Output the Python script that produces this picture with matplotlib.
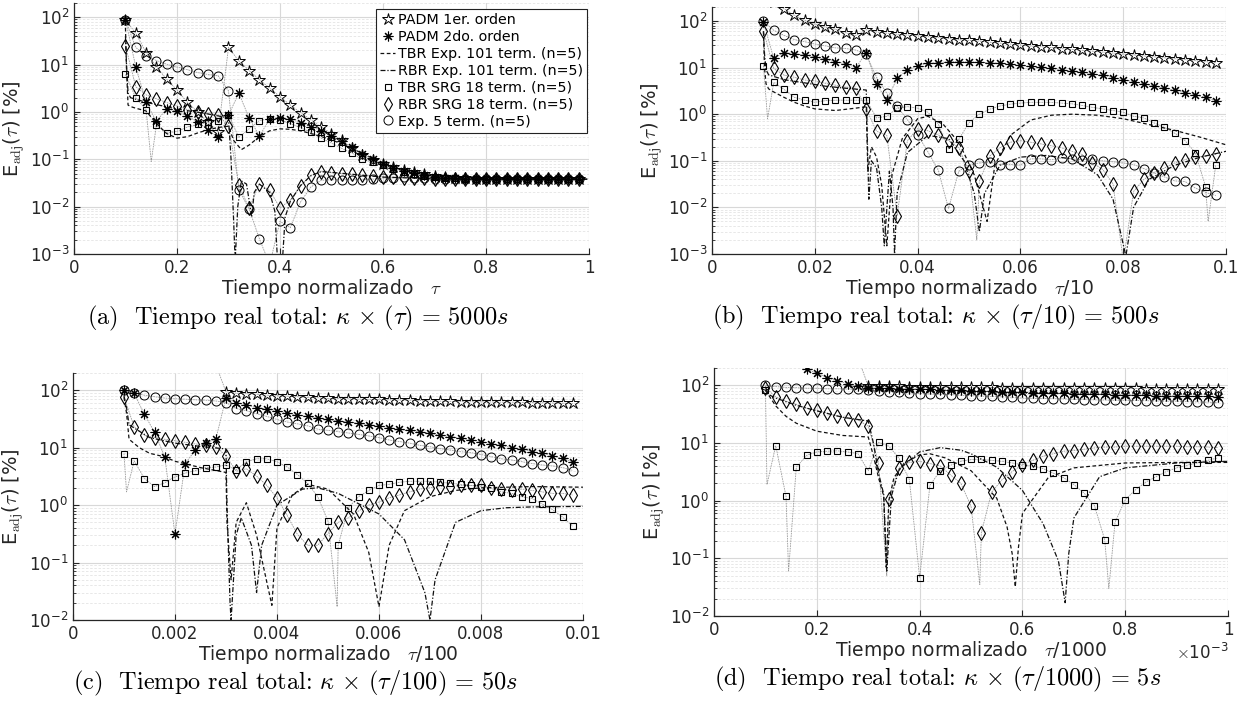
import numpy as np
import matplotlib.pyplot as plt
from matplotlib.lines import Line2D
from matplotlib.ticker import LogLocator, NullFormatter, FuncFormatter

plt.rcParams['mathtext.fontset'] = 'cm'
plt.rcParams['font.family'] = 'DejaVu Sans'

# sample grid in normalized units; each panel rescales it
t = np.round(np.arange(0.10, 0.99, 0.02), 2)

# ---------------- (a) tau ----------------
star_a = [88, 46, 18, 9.0, 4.9, 2.9, 1.6, 1.0, 0.6, 0.38, 23, 12, 7.5, 4.8, 3.2, 2.1, 1.4, 0.97, 0.68, 0.48,
          0.35, 0.25, 0.17, 0.125, 0.097, 0.08, 0.068, 0.059, 0.053, 0.048, 0.045, 0.042, 0.041, 0.040, 0.039,
          0.039, 0.038, 0.038, 0.038, 0.038, 0.038, 0.038, 0.038, 0.038, 0.038]
ast_a = [88, 9.0, 1.6, 0.63, 1.18, 1.04, 0.82, 0.62, 0.42, 0.29, 0.85, 2.5, 0.75, 0.31, 0.71, 0.76, 0.71, 0.59, 0.49, 0.4,
         0.31, 0.24, 0.18, 0.13, 0.1, 0.08, 0.066, 0.057, 0.051, 0.046, 0.043, 0.041, 0.04, 0.039, 0.039,
         0.038, 0.038, 0.038, 0.038, 0.038, 0.038, 0.038, 0.038, 0.038, 0.038]
sq_a = [6.2, 2.0, 1.12, 0.52, 0.36, 0.39, 0.48, 0.55, 0.6, 0.66, 0.88, 0.29, 0.44, 0.66, 0.72, 0.68, 0.57, 0.47, 0.37, 0.28,
        0.22, 0.17, 0.135, 0.1, 0.087, 0.075, 0.063, 0.055, 0.05, 0.045, 0.042, 0.041, 0.04, 0.039, 0.039,
        0.038, 0.038, 0.038, 0.038, 0.038, 0.038, 0.038, 0.038, 0.038, 0.038]
dia_a = [25, 3.4, 2.3, 1.9, 1.58, 1.34, 1.12, 1.0, 0.92, 0.87, 0.5, 0.029, 0.0092, 0.03, 0.022, 0.0094, 0.0138, 0.0275,
         0.046, 0.055, 0.052, 0.05, 0.048, 0.046, 0.044, 0.043, 0.042, 0.041, 0.04, 0.04, 0.039, 0.039,
         0.038, 0.038, 0.038, 0.038, 0.038, 0.038, 0.038, 0.038, 0.038, 0.038, 0.038, 0.038, 0.038]
circ_a = [88, 23, 15.4, 12.2, 10.2, 8.9, 7.8, 6.8, 6.2, 5.8, 2.8, 0.023, 0.0089, 0.0021, 0.0006, 0.0049, 0.0036, 0.0126,
          0.026, 0.036, 0.037, 0.037, 0.037, 0.037, 0.038, 0.04, 0.041, 0.042, 0.041, 0.04, 0.039, 0.039,
          0.038, 0.038, 0.038, 0.038, 0.038, 0.038, 0.038, 0.038, 0.038, 0.038, 0.038, 0.038, 0.038]
tbr_xa = [0.1, 0.102, 0.105, 0.11, 0.12, 0.14, 0.16, 0.18, 0.2, 0.22, 0.24, 0.26, 0.28, 0.3, 0.31, 0.325, 0.34, 0.36,
          0.38, 0.4, 0.42, 0.44, 0.46, 0.5, 0.55, 0.6, 0.65, 0.7, 0.8, 1.0]
tbr_ya = [60, 8, 1.4, 1.3, 1.2, 1.05, 0.57, 0.35, 0.28, 0.3, 0.36, 0.42, 0.47, 0.5, 0.25, 0.16, 0.2, 0.3,
          0.4, 0.44, 0.43, 0.4, 0.35, 0.26, 0.15, 0.083, 0.053, 0.044, 0.039, 0.038]
rbr_xa = [0.1, 0.102, 0.105, 0.11, 0.14, 0.2, 0.25, 0.3, 0.305, 0.31, 0.313, 0.318, 0.325, 0.335, 0.342, 0.345, 0.35,
          0.36, 0.38, 0.39, 0.395, 0.405, 0.41, 0.42, 0.44, 0.46, 0.48, 0.5, 0.6, 0.7, 1.0]
rbr_ya = [40, 10, 2.5, 2.0, 1.6, 1.15, 0.95, 0.75, 0.1, 0.005, 0.0007, 0.01, 0.035, 0.03, 0.01, 0.006, 0.02,
          0.03, 0.02, 0.008, 0.0008, 0.0008, 0.006, 0.013, 0.028, 0.045, 0.055, 0.053, 0.042, 0.039, 0.038]
sq_dip_a = ([0.15], [0.09])
dia_dip_a = ([], [])

# ---------------- (b) tau/10 ----------------
star_b = [400, 260, 184, 132, 105, 85, 74, 66, 56, 49, 65, 58, 55, 52, 50, 48, 46, 44, 42, 40,
          38.5, 37, 35, 33.5, 32, 30.5, 29, 28, 27, 25.5, 24.5, 23.5, 22.5, 21.5, 20.5, 19.5, 18.7, 17.8, 17,
          16.2, 15.5, 14.8, 14.1, 13.4, 12.8]
ast_b = [95, 15.7, 21, 20, 18.5, 17, 15, 13.3, 12, 10, 21, 4.4, 2.0, 5.9, 8.9, 11, 12.3, 12.8, 13.3, 13.3,
         13.1, 13, 12.8, 12.3, 11.7, 11.1, 10.6, 10.1, 9.6, 8.9, 8.4, 8.0, 7.3, 6.9, 6.1, 5.4, 5.0, 4.5, 4.0,
         3.6, 3.3, 2.9, 2.6, 2.3, 1.96]
sq_b = [11, 4.8, 3.4, 2.3, 2.0, 1.8, 1.95, 2.0, 2.0, 2.0, 2.0, 0.83, 0.9, 1.35, 1.45, 1.35, 1.1, 0.62, 0.18, 0.29,
        0.66, 1.0, 1.28, 1.5, 1.64, 1.73, 1.8, 1.8, 1.8, 1.73, 1.67, 1.54, 1.4, 1.3, 1.2, 1.1, 0.9, 0.83, 0.65,
        0.52, 0.39, 0.27, 0.15, 0.028, 0.083]
dia_b = [61, 9.6, 6.9, 6.2, 5.4, 5.2, 4.6, 4.2, 3.8, 3.6, 1.3, 0.43, 0.35, 0.0066, 0.27, 0.49, 0.44, 0.36, 0.27, 0.19,
         0.06, 0.037, 0.126, 0.19, 0.25, 0.27, 0.25, 0.23, 0.21, 0.19, 0.16, 0.137, 0.09, 0.065, 0.032, 0.0007,
         0.022, 0.04, 0.055, 0.07, 0.09, 0.106, 0.12, 0.125, 0.137]
circ_b = [100, 63, 49, 40, 36, 32, 29.3, 26.5, 25.7, 23.7, 19.2, 6.2, 2.8, 1.47, 0.76, 0.36, 0.155, 0.063, 0.0095, 0.06,
          0.081, 0.09, 0.095, 0.083, 0.083, 0.081, 0.11, 0.11, 0.105, 0.115, 0.11, 0.105, 0.11, 0.1, 0.095, 0.09,
          0.083, 0.068, 0.055, 0.045, 0.037, 0.036, 0.026, 0.021, 0.018]
tbr_xb = [0.01, 0.0102, 0.0105, 0.011, 0.012, 0.014, 0.016, 0.018, 0.02, 0.024, 0.028, 0.03, 0.0303, 0.031, 0.032,
          0.033, 0.034, 0.035, 0.037, 0.04, 0.042, 0.045, 0.048, 0.051, 0.0535, 0.055, 0.058, 0.062, 0.066, 0.07,
          0.075, 0.08, 0.085, 0.09, 0.095, 0.1]
tbr_yb = [60, 10, 4.5, 3.5, 3.0, 2.3, 1.8, 1.5, 1.3, 1.2, 1.35, 1.45, 0.06, 0.2, 0.12,
          0.03, 0.0015, 0.05, 0.3, 0.8, 0.9, 0.6, 0.25, 0.05, 0.005, 0.08, 0.35, 0.75, 0.95, 1.0,
          0.95, 0.8, 0.6, 0.45, 0.32, 0.22]
rbr_xb = [0.01, 0.0102, 0.0105, 0.011, 0.014, 0.018, 0.022, 0.026, 0.03, 0.0302, 0.0305, 0.031, 0.032, 0.033, 0.0335,
          0.0345, 0.0352, 0.0355, 0.036, 0.038, 0.042, 0.046, 0.049, 0.051, 0.052, 0.053, 0.056, 0.06, 0.065, 0.07,
          0.075, 0.078, 0.0805, 0.082, 0.085, 0.09, 0.095, 0.1]
rbr_yb = [60, 20, 9, 7, 5.5, 4.7, 4.0, 3.6, 3.3, 0.3, 0.015, 0.1, 0.07, 0.01, 0.0015,
          0.06, 0.01, 0.001, 0.02, 0.15, 0.35, 0.3, 0.1, 0.02, 0.003, 0.02, 0.08, 0.12, 0.13, 0.11,
          0.05, 0.015, 0.0009, 0.01, 0.04, 0.08, 0.12, 0.16]
sq_dip_b = ([0.0108, 0.0965], [0.8, 0.005])
dia_dip_b = ([0.0515], [0.002])

# ---------------- (c) tau/100 ----------------
star_c = [900, 700, 600, 500, 450, 400, 350, 320, 300, 280, 94, 89, 87, 85, 82, 80, 79, 77, 75, 74,
          72, 71.5, 71, 70, 69.5, 69, 68, 67.5, 67, 66, 65, 64.5, 64, 63.5, 63, 63, 62.5, 62, 62,
          61.5, 61, 60.5, 60, 59.5, 59]
ast_c = [100, 88, 38, 18.6, 6.9, 0.31, 5.3, 9.1, 12.2, 13.9, 74, 61, 55, 50, 47, 44, 40, 37, 35, 32.5,
         31, 29, 28, 26.5, 25, 24, 22.3, 21, 20, 19, 17.8, 16.4, 15.6, 14.6, 13.6, 12.8, 11.8, 11, 10,
         9.6, 8.5, 8, 7.2, 6.5, 5.6]
sq_c = [7.9, 5.9, 2.9, 2.1, 2.45, 3.1, 3.6, 4.0, 4.5, 4.6, 5.0, 4.1, 5.7, 6.4, 6.4, 5.7, 4.6, 3.4, 2.4, 1.4,
        0.53, 0.2, 0.9, 1.4, 1.8, 2.2, 2.3, 2.5, 2.6, 2.6, 2.6, 2.5, 2.4, 2.3, 2.2, 2.1, 1.95, 1.7, 1.6,
        1.4, 1.3, 1.05, 0.84, 0.62, 0.43]
dia_c = [77, 23, 16.4, 15, 14, 13.2, 12.4, 11.6, 11.2, 10.4, 7.2, 3.9, 4.3, 3.2, 2.2, 1.34, 0.66, 0.31, 0.2, 0.2,
         0.32, 0.5, 0.6, 0.79, 1.0, 1.13, 1.34, 1.5, 1.7, 1.9, 2.0, 2.1, 2.1, 2.2, 2.2, 2.2, 2.0, 1.9, 1.8,
         1.9, 1.8, 1.7, 1.6, 1.6, 1.5]
circ_c = [100, 89, 82, 77, 73, 71, 70, 68, 67, 65, 61, 48, 44, 39, 35, 31, 28, 26, 24, 21,
          20, 19, 18, 17, 16, 15, 13.6, 12.8, 12, 11, 10.4, 9.6, 9.1, 8.5, 8.2, 7.6, 7, 6.4, 6.1,
          5.7, 5.3, 5, 4.8, 4.5, 4.0]
tbr_xc = [0.001, 0.00105, 0.0011, 0.0013, 0.0015, 0.0018, 0.002, 0.0025, 0.003, 0.00302, 0.0031, 0.0032, 0.0034,
          0.0036, 0.0039, 0.004, 0.0043, 0.0046, 0.005, 0.0055, 0.0058, 0.006, 0.0062, 0.0065, 0.007, 0.0075,
          0.008, 0.009, 0.01]
tbr_yc = [75, 40, 14, 10, 8, 6.9, 5.8, 4.5, 3.7, 0.5, 0.05, 0.5, 1.1,
          0.3, 0.018, 0.4, 1.5, 2.3, 1.9, 0.7, 0.15, 0.017, 0.2, 0.8, 1.4, 1.8,
          2.0, 2.1, 2.05]
rbr_xc = [0.001, 0.00105, 0.0011, 0.0015, 0.002, 0.0025, 0.003, 0.00302, 0.00308, 0.0031, 0.0032, 0.0033, 0.0035,
          0.0036, 0.0037, 0.004, 0.0045, 0.0048, 0.0052, 0.006, 0.0065, 0.0069, 0.007, 0.0071, 0.0075, 0.008,
          0.0085, 0.009, 0.01]
rbr_yc = [80, 50, 25, 15, 12, 10.5, 9.5, 1, 0.02, 0.01, 0.3, 0.6, 0.2,
          0.03, 0.2, 1.0, 1.9, 2.0, 1.6, 0.7, 0.25, 0.03, 0.01, 0.05, 0.5, 0.8,
          0.9, 0.93, 0.95]
sq_dip_c = ([0.00105, 0.00518], [1.7, 0.017])
dia_dip_c = ([], [])

# ---------------- (d) tau/1000, line x in units of 1e-3 ----------------
star_d = [3000, 2000, 1500, 1000, 800, 600, 500, 400, 350, 300, 97, 96.5, 96, 95.5, 95, 94.5, 94, 93.5, 93, 92.7,
          92.4, 92, 91.7, 91.4, 91, 90.7, 90.4, 90.1, 89.8, 89.5, 89.3, 89.1, 88.9, 88.7, 88.5, 88.3, 88.1, 88,
          87.9, 87.8, 87.7, 87.6, 87.5, 87.4, 87.3]
ast_d = [900, 600, 400, 260, 190, 162, 136, 119, 107, 97, 91, 90, 89, 88, 87, 86, 85, 84, 83, 82,
         81, 80, 79, 78, 77, 76, 75, 74.5, 74, 73, 72, 71.5, 71, 70, 69, 68.5, 68, 67, 66.5,
         66, 65.5, 65, 64.5, 64, 63]
sq_d = [82, 9.0, 1.19, 3.8, 6.1, 7.0, 7.2, 7.3, 7.0, 6.5, 3.3, 10.3, 8.8, 5.4, 2.3, 0.046, 1.85, 3.3, 4.1, 4.8,
        5.2, 5.2, 5.0, 4.8, 4.5, 4.2, 4.0, 3.6, 3.0, 2.5, 1.9, 1.35, 0.82, 0.21, 0.42, 1.04, 1.55, 2.1, 2.6,
        3.2, 3.7, 4.1, 4.5, 5.0, 5.5]
dia_d = [91, 63, 53, 47, 40, 37, 33, 29, 26.5, 25, 19.6, 4.5, 1.08, 3.7, 4.6, 4.8, 4.4, 4.0, 2.8, 2.0,
         0.8, 0.28, 1.4, 2.3, 3.2, 4.2, 5.0, 5.9, 6.5, 7.2, 7.4, 7.8, 8.2, 8.5, 8.5, 8.8, 8.8, 8.8, 8.8,
         8.8, 8.8, 8.6, 8.6, 8.5, 8.3]
circ_d = [100, 95, 92, 91, 89, 89, 87, 87, 86, 85, 83, 80, 78, 76, 74, 72, 71, 70, 69, 67,
          66, 65, 64, 63, 62, 60, 59.5, 59, 58.5, 58, 57, 56.5, 56, 55.5, 55, 55, 54.5, 54, 53.5,
          53, 53, 52, 51.5, 51, 50]
tbr_xd = [0.1, 0.12, 0.14, 0.16, 0.2, 0.25, 0.3, 0.31, 0.32, 0.33, 0.335, 0.34, 0.35, 0.37, 0.4, 0.42, 0.45, 0.5,
          0.55, 0.57, 0.58, 0.586, 0.592, 0.6, 0.65, 0.7, 0.8, 0.9, 1.0]
tbr_yd = [82, 44, 29, 22, 16, 13.5, 12.7, 6, 2.5, 1.2, 0.07, 1.0, 2.5, 4.5, 6.2, 6.5, 5.5, 3.3,
          1.1, 0.35, 0.12, 0.032, 0.15, 0.6, 2.5, 3.7, 4.5, 4.6, 4.6]
rbr_xd = [0.1, 0.105, 0.12, 0.16, 0.2, 0.25, 0.3, 0.31, 0.32, 0.33, 0.336, 0.345, 0.36, 0.4, 0.44, 0.48, 0.5, 0.55,
          0.6, 0.64, 0.67, 0.683, 0.69, 0.7, 0.75, 0.8, 0.9, 1.0]
rbr_yd = [95, 70, 60, 45, 36, 28, 24, 10, 3, 1.3, 0.06, 1.2, 3.5, 7, 8.3, 7.5, 6.5, 3.8,
          1.5, 0.4, 0.09, 0.017, 0.12, 0.5, 2.6, 3.7, 4.5, 4.8]
sq_dip_d = ([0.103, 0.145, 0.768], [1.9, 0.06, 0.03])
dia_dip_d = ([0.336, 0.517], [0.05, 0.035])

labels = ['PADM 1er. orden', 'PADM 2do. orden', 'TBR Exp. 101 term. (n=5)', 'RBR Exp. 101 term. (n=5)',
          'TBR SRG 18 term. (n=5)', 'RBR SRG 18 term. (n=5)', 'Exp. 5 term. (n=5)']

GREY = '#9c9c9c'
INK = '#262626'
mk_star = dict(marker='*', ms=9, mew=0.7, mec='k', mfc='none', ls='none')
mk_ast = dict(marker=(8, 2, 0), ms=7, mew=0.8, mec='k', mfc='none', ls='none')
mk_sq = dict(marker='s', ms=4.6, mew=0.8, mec='k', mfc='none', ls='none')
mk_dia = dict(marker='d', ms=7.5, mew=0.8, mec='k', mfc='none', ls='none')
mk_circ = dict(marker='o', ms=6.5, mew=0.7, mec='k', mfc='none', ls='none')
ls_tbr = (0, (3, 2))
ls_rbr = (0, (4, 1.5, 1, 1.5))


def grey_line(ax, x, y, dips=None):
    xs = list(x)
    ys = list(y)
    if dips is not None:
        xs += list(dips[0])
        ys += list(dips[1])
    order = np.argsort(xs)
    ax.plot(np.array(xs)[order], np.array(ys)[order], color=GREY, lw=0.6, ls=(0, (2, 1)), zorder=2)


def panel(ax, k, kl, star, ast, sq, dia, circ, tbr, rbr, sq_dip, dia_dip, ymin, xlab, cap, xfmt):
    # k: full x range of the panel (also scales the marker grid); kl scales typed line/dip x values
    x = t * k
    for s in (star, ast, circ):
        grey_line(ax, x, s)
    grey_line(ax, x, sq, (np.array(sq_dip[0]) * kl, sq_dip[1]))
    grey_line(ax, x, dia, (np.array(dia_dip[0]) * kl, dia_dip[1]))
    ax.plot(np.array(tbr[0]) * kl, tbr[1], color='#111111', lw=0.9, ls=ls_tbr, zorder=3)
    ax.plot(np.array(rbr[0]) * kl, rbr[1], color='#111111', lw=0.9, ls=ls_rbr, zorder=3)
    ax.plot(x, star, zorder=4, **mk_star)
    ax.plot(x, ast, zorder=4, **mk_ast)
    ax.plot(x, sq, zorder=4, **mk_sq)
    ax.plot(x, dia, zorder=4, **mk_dia)
    ax.plot(x, circ, zorder=4, **mk_circ)

    ax.set_yscale('log')
    ax.set_ylim(ymin, 200)
    ax.set_xlim(0, k)
    ax.set_xticks(np.linspace(0, k, 6))
    ax.xaxis.set_major_formatter(FuncFormatter(xfmt))
    ax.yaxis.set_major_locator(LogLocator(base=10, numticks=10))
    ax.yaxis.set_minor_locator(LogLocator(base=10, subs=np.arange(2, 10), numticks=20))
    ax.yaxis.set_minor_formatter(NullFormatter())
    ax.grid(True, which='major', color='#d8d8d8', lw=0.8)
    ax.grid(True, which='minor', axis='y', color='#e4e4e4', lw=0.6, ls=(0, (3, 2)))
    ax.set_axisbelow(True)
    for side in ('top', 'right'):
        ax.spines[side].set_visible(False)
    for side in ('left', 'bottom'):
        ax.spines[side].set_color(INK)
        ax.spines[side].set_linewidth(0.9)
    ax.tick_params(which='both', direction='in', colors=INK, labelsize=12)
    ax.tick_params(which='major', length=4)
    ax.tick_params(which='minor', length=2)
    ax.set_xlabel(xlab, fontsize=13.5, color=INK, labelpad=0)
    ax.set_ylabel(r'E$_{\mathrm{adj}}$($\tau$) [%]', fontsize=14, color=INK, labelpad=2)
    ax.text(0.435, -0.255, cap, transform=ax.transAxes, ha='center', va='center', fontsize=17.5,
            family='cmr10')


fig = plt.figure(figsize=(12.39, 7.03), dpi=100)
ax_a = fig.add_axes([0.0597, 0.6387, 0.4157, 0.3570])
ax_b = fig.add_axes([0.5747, 0.6387, 0.4149, 0.3514])
ax_c = fig.add_axes([0.0589, 0.1181, 0.4116, 0.3514])
ax_d = fig.add_axes([0.5763, 0.1238, 0.4149, 0.3528])

panel(ax_a, 1.0, 1.0, star_a, ast_a, sq_a, dia_a, circ_a, (tbr_xa, tbr_ya), (rbr_xa, rbr_ya), sq_dip_a, dia_dip_a,
      1e-3, r'Tiempo normalizado   $\tau$',
      r'(a)  Tiempo real total: $\kappa\,\times\,(\tau)\,=\,5000s$', lambda v, p: '%g' % round(v, 3))
panel(ax_b, 0.1, 1.0, star_b, ast_b, sq_b, dia_b, circ_b, (tbr_xb, tbr_yb), (rbr_xb, rbr_yb), sq_dip_b, dia_dip_b,
      1e-3, r'Tiempo normalizado   $\tau$/10',
      r'(b)  Tiempo real total: $\kappa\,\times\,(\tau/10)\,=\,500s$', lambda v, p: '%g' % round(v, 4))
panel(ax_c, 0.01, 1.0, star_c, ast_c, sq_c, dia_c, circ_c, (tbr_xc, tbr_yc), (rbr_xc, rbr_yc), sq_dip_c, dia_dip_c,
      1e-2, r'Tiempo normalizado   $\tau$/100',
      r'(c)  Tiempo real total: $\kappa\,\times\,(\tau/100)\,=\,50s$', lambda v, p: '%g' % round(v, 5))
panel(ax_d, 0.001, 0.001, star_d, ast_d, sq_d, dia_d, circ_d, (tbr_xd, tbr_yd), (rbr_xd, rbr_yd), sq_dip_d,
      dia_dip_d, 1e-2, r'Tiempo normalizado   $\tau$/1000',
      r'(d)  Tiempo real total: $\kappa\,\times\,(\tau/1000)\,=\,5s$', lambda v, p: '%g' % round(v * 1e3, 3))
ax_d.text(1.0, -0.15, r'$\times\mathdefault{10^{-3}}$', transform=ax_d.transAxes, ha='right', va='center',
          fontsize=12, color=INK)

handles = [Line2D([], [], **mk_star), Line2D([], [], **mk_ast),
           Line2D([], [], color='#111111', lw=0.9, ls=ls_tbr),
           Line2D([], [], color='#111111', lw=0.9, ls=ls_rbr),
           Line2D([], [], **mk_sq), Line2D([], [], **mk_dia), Line2D([], [], **mk_circ)]
leg = ax_a.legend(handles, labels, loc='upper right', bbox_to_anchor=(0.996, 0.976), borderaxespad=0,
                  fontsize=10.3, labelspacing=0.2, handlelength=1.0, handletextpad=0.2, borderpad=0.3,
                  fancybox=False, framealpha=1, edgecolor='#222222')
leg.get_frame().set_linewidth(0.8)

fig.savefig('out.png', dpi=100)
